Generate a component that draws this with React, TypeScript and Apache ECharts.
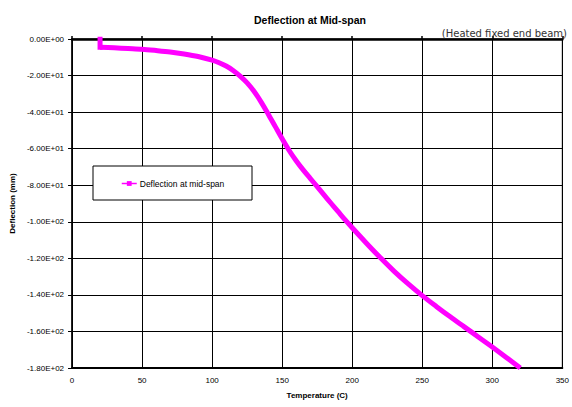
import React, { useEffect, useRef } from "react";
import * as echarts from "echarts";

const startTemperatures = [20, 20];
const startDeflections = [0, -4.5];
const temperatures = [20, 30, 40, 50, 60, 70, 80, 90, 100, 105, 110, 115, 120, 125, 130, 135, 140, 145, 150, 155, 160, 165, 170, 175, 180, 185, 190, 195, 200, 210, 220, 230, 240, 250, 260, 270, 280, 290, 300, 310, 320];
const deflections = [-4.5, -4.8, -5.2, -5.6, -6.3, -7.1, -8.2, -9.6, -11.6, -13, -14.8, -17.2, -20.3, -24, -28.7, -34.5, -41, -47.8, -54.6, -61, -66.6, -71.6, -76.2, -80.8, -85.4, -90, -94.5, -99, -103.3, -111.6, -119.6, -127.1, -134, -140.4, -146.3, -152, -157.5, -163, -168.5, -174.2, -180];

const seriesName = "Deflection at mid-span";
const titleText = "Deflection at Mid-span";
const subtitleText = "(Heated fixed end beam)";
const xName = "Temperature (C)";
const yName = "Deflection (mm)";

const FONT = "Arial, 'Liberation Sans', sans-serif";

function sci(v: number): string {
  if (v === 0) return "0.00E+00";
  const s = v.toExponential(2).toUpperCase();
  const m = s.match(/^(-?[\d.]+)E([+-])(\d+)$/);
  if (!m) return s;
  const exp = m[3].length < 2 ? "0" + m[3] : m[3];
  return `${m[1]}E${m[2]}${exp}`;
}

export default function App() {
  const ref = useRef<HTMLDivElement>(null);
  useEffect(() => {
    if (!ref.current) return;
    const chart = echarts.init(ref.current, undefined, { renderer: "svg" });
    const data = temperatures.map((t, i) => [t, deflections[i]]);
    const startData = startTemperatures.map((t, i) => [t, startDeflections[i]]);
    chart.setOption({
      animation: false,
      backgroundColor: "#ffffff",
      textStyle: { fontFamily: FONT },
      title: {
        text: titleText,
        left: 305,
        top: 9,
        textAlign: "center",
        textStyle: { fontSize: 10.5, fontWeight: "bold", color: "#000", fontFamily: FONT },
      },
      grid: {
        left: 71,
        right: 5,
        top: 39,
        bottom: 39,
        show: true,
        borderColor: "#000",
        borderWidth: 1,
        backgroundColor: "transparent",
      },
      legend: {
        show: true,
        left: 121,
        top: 179,
        padding: 0,
        itemWidth: 15,
        itemHeight: 6,
        itemGap: 4,
        z: 100,
        data: [{ name: seriesName }],
        lineStyle: { width: 1.5 },
        textStyle: { fontSize: 8.5, color: "#000", fontFamily: FONT, padding: [0, 0, 0, -2] },
      },
      xAxis: [
        {
          type: "value",
          position: "bottom",
          min: 0,
          max: 350,
          interval: 50,
          name: xName,
          nameLocation: "middle",
          nameGap: 23,
          nameTextStyle: { fontSize: 8, fontWeight: "bold", color: "#000", fontFamily: FONT },
          axisLine: { show: true, onZero: false, lineStyle: { color: "#000", width: 2 } },
          axisTick: { show: false },
          axisLabel: { fontSize: 8, color: "#000", margin: 8, fontFamily: FONT },
          splitLine: { show: true, lineStyle: { color: "#000", width: 1 } },
        },
        {
          type: "value",
          position: "top",
          min: 0,
          max: 350,
          interval: 50,
          axisLine: { show: true, onZero: false, lineStyle: { color: "#000", width: 2.5 } },
          axisTick: { show: true, length: 3, lineStyle: { color: "#000", width: 1.5 } },
          axisLabel: { show: false },
          splitLine: { show: false },
        },
      ],
      yAxis: {
        type: "value",
        min: -180,
        max: 0,
        interval: 20,
        name: yName,
        nameLocation: "middle",
        nameGap: 53,
        nameTextStyle: { fontSize: 8, fontWeight: "bold", color: "#000", fontFamily: FONT },
        axisLine: { show: true, onZero: false, lineStyle: { color: "#000", width: 1.5 } },
        axisTick: { show: true, length: 4, lineStyle: { color: "#000" } },
        axisLabel: { fontSize: 8, color: "#000", margin: 8, fontFamily: FONT, formatter: (v: number) => sci(v) },
        splitLine: { show: true, lineStyle: { color: "#000", width: 1 } },
      },
      graphic: [
        {
          type: "rect",
          shape: { x: 93, y: 166, width: 159, height: 34 },
          style: { fill: "#fff", stroke: "#000", lineWidth: 1 },
          z: 50,
        },
        {
          type: "text",
          right: 5,
          top: 28,
          style: {
            text: subtitleText,
            font: "10px 'DejaVu Sans', sans-serif",
            fill: "#333",
          },
          z: 60,
        },
      ],
      series: [
        {
          name: seriesName,
          type: "line",
          data,
          showSymbol: false,
          symbol: "rect",
          symbolSize: 5,
          smooth: 0.3,
          color: "#ff00ff",
          lineStyle: { color: "#ff00ff", width: 5, join: "round", cap: "butt" },
          itemStyle: { color: "#ff00ff" },
          z: 10,
        },
        {
          name: "start",
          type: "line",
          data: startData,
          showSymbol: false,
          symbol: "none",
          color: "#ff00ff",
          lineStyle: { color: "#ff00ff", width: 5, cap: "square" },
          z: 10,
        },
      ],
    });
    return () => chart.dispose();
  }, []);
  return <div ref={ref} style={{ position: "fixed", left: 0, top: 0, width: 572, height: 407 }} />;
}
